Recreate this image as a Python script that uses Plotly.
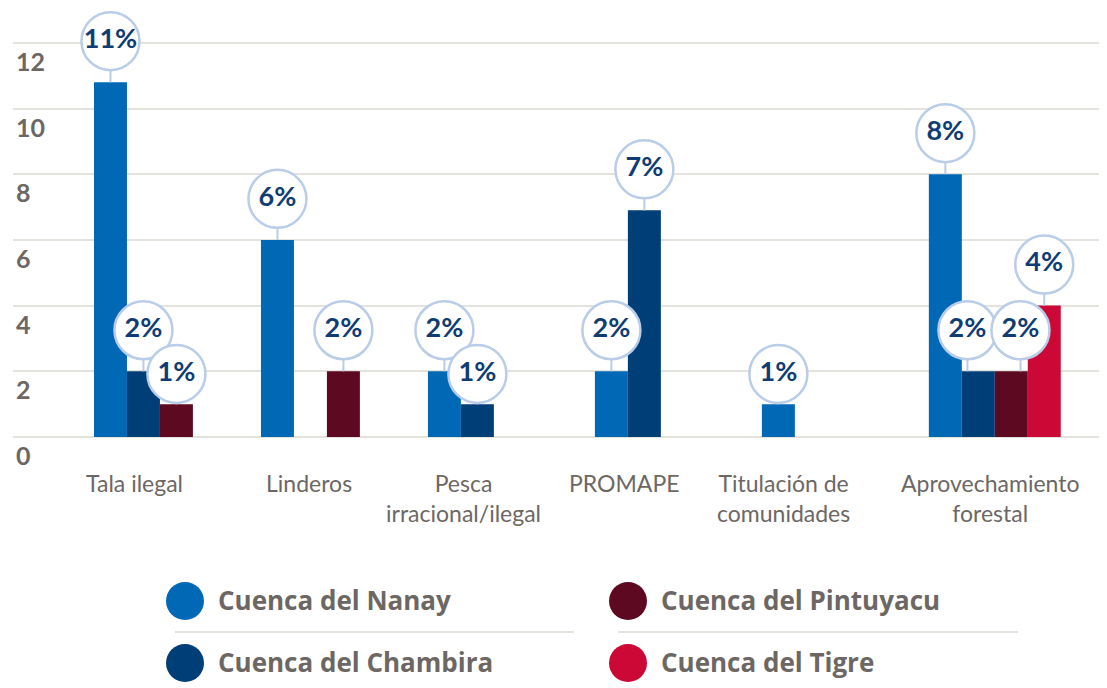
import plotly.graph_objects as go

# ---------------- data ----------------
categories = ["Tala ilegal", "Linderos", "Pesca irracional/ilegal", "PROMAPE",
              "Titulación de comunidades", "Aprovechamiento forestal"]
category_labels = ["Tala ilegal", "Linderos", "Pesca<br>irracional/ilegal", "PROMAPE",
                   "Titulación de<br>comunidades", "Aprovechamiento<br>forestal"]
series_names = ["Cuenca del Nanay", "Cuenca del Chambira", "Cuenca del Pintuyacu", "Cuenca del Tigre"]
nanay = [10.8, 6.0, 2.0, 2.0, 1.0, 8.0]
chambira = [2.0, None, 1.0, 6.9, None, 2.0]
pintuyacu = [1.0, 2.0, None, None, None, 2.0]
tigre = [None, None, None, None, None, 4.0]
y_ticks = [0, 2, 4, 6, 8, 10, 12]

series_values = [nanay, chambira, pintuyacu, tigre]

# ---------------- style ----------------
colors = ["#0068b4", "#003e78", "#5d0922", "#cc0836"]
grey = "#6d6764"
navy = "#0f3d73"
bubble_line = "#b9cce8"
grid_col = "#e4e2dc"
FONT = "Lato"
LEG_FONT = "Open Sans"
label_xshift = [-25, -18, -30, -36, -44, -5]
# small horizontal nudges (category units) so overlapping bubbles stay readable
bubble_nudge = {(5, 1): -0.065, (5, 2): 0.055}
BARGAP = 0.21
XRANGE = [-0.88, 5.63]

OFF = 8  # page body margin
W, H = 1107 - OFF, 688 - OFF
ML, MR, MT, MB = 5, 7, 2, 251
PW, PH = W - ML - MR, H - MT - MB


def px_x(p):  # window pixel -> paper
    return (p - OFF - ML) / PW


def px_y(p):
    return (H - MB - (p - OFF)) / PH


def lift(v):
    return 0.92 if v < 1.5 else 1.25


fig = go.Figure()

# bars
for name, vals, col in zip(series_names, series_values, colors):
    fig.add_trace(go.Bar(
        x=categories, y=vals, name=name, marker=dict(color=col, line=dict(width=0)),
        offsetgroup=name, showlegend=False, hoverinfo="skip"))

nser = len(series_names)
slot = (1 - BARGAP) / nser


def bubble_x(ci, si):
    return ci + (si - (nser - 1) / 2) * slot + bubble_nudge.get((ci, si), 0)


# connectors
for si, (name, vals) in enumerate(zip(series_names, series_values)):
    xs, ys = [], []
    for ci, v in enumerate(vals):
        if v is None:
            continue
        bx = bubble_x(ci, si)
        xs += [bx, bx, None]
        ys += [v, v + lift(v), None]
    fig.add_trace(go.Scatter(
        x=xs, y=ys, xaxis="x2", mode="lines", showlegend=False,
        line=dict(color=bubble_line, width=2), hoverinfo="skip", cliponaxis=False))

# bubbles
for si, (name, vals) in enumerate(zip(series_names, series_values)):
    xs, ys, ts = [], [], []
    for ci, v in enumerate(vals):
        if v is None:
            continue
        xs.append(bubble_x(ci, si))
        ys.append(v + lift(v))
        ts.append(f"{round(v)}%")
    fig.add_trace(go.Scatter(
        x=xs, y=ys, text=ts, xaxis="x2", mode="markers+text", showlegend=False,
        textposition="middle center",
        textfont=dict(family=FONT, size=27, color=navy, weight="bold"),
        marker=dict(size=58, color="white", line=dict(color=bubble_line, width=2.5)),
        hoverinfo="skip", cliponaxis=False))

annotations = []
# y tick labels
for t in y_ticks:
    annotations.append(dict(
        x=0, xref="paper", y=t, yref="y", text=str(t), showarrow=False,
        xanchor="left", yanchor="middle", xshift=1, yshift=-18,
        font=dict(family=FONT, size=25, color=grey, weight="bold")))
# x category labels
for c, lab, sh in zip(categories, category_labels, label_xshift):
    annotations.append(dict(
        x=c, xref="x", y=0, yref="y", text=lab, showarrow=False,
        xanchor="center", yanchor="top", xshift=sh, yshift=-30,
        font=dict(family=FONT, size=23, color=grey)))

# legend (drawn)
shapes = []
leg_pos = [(185, 601), (185, 663), (628, 601), (628, 663)]
for i, (cx, cy) in enumerate(leg_pos):
    shapes.append(dict(
        type="circle", xref="paper", yref="paper", xsizemode="pixel", ysizemode="pixel",
        xanchor=px_x(cx), yanchor=px_y(cy), x0=-19, x1=19, y0=-19, y1=19,
        fillcolor=colors[i], line=dict(width=0)))
    annotations.append(dict(
        x=px_x(cx + 31), xref="paper", y=px_y(cy - 1), yref="paper", text=series_names[i],
        showarrow=False, xanchor="left", yanchor="middle",
        font=dict(family=LEG_FONT, size=26, color=grey, weight="bold")))
for x0, x1 in [(175, 574), (618, 1018)]:
    shapes.append(dict(type="line", xref="paper", yref="paper",
                       x0=px_x(x0), x1=px_x(x1), y0=px_y(632), y1=px_y(632),
                       line=dict(color=grid_col, width=2)))

fig.update_layout(
    width=W, height=H, margin=dict(l=ML, r=MR, t=MT, b=MB),
    paper_bgcolor="white", plot_bgcolor="white",
    barmode="group", bargap=BARGAP, bargroupgap=0,
    showlegend=False,
    annotations=annotations, shapes=shapes,
    xaxis=dict(type="category", categoryorder="array", categoryarray=categories,
               range=XRANGE, showticklabels=False, showgrid=False,
               zeroline=False, showline=False, ticks=""),
    xaxis2=dict(overlaying="x", range=XRANGE, visible=False),
    yaxis=dict(range=[0, 13], tickvals=y_ticks, showticklabels=False,
               showgrid=True, gridcolor=grid_col, gridwidth=2,
               zeroline=True, zerolinecolor=grid_col, zerolinewidth=2,
               showline=False, ticks=""),
)

fig.write_html("out.html")
